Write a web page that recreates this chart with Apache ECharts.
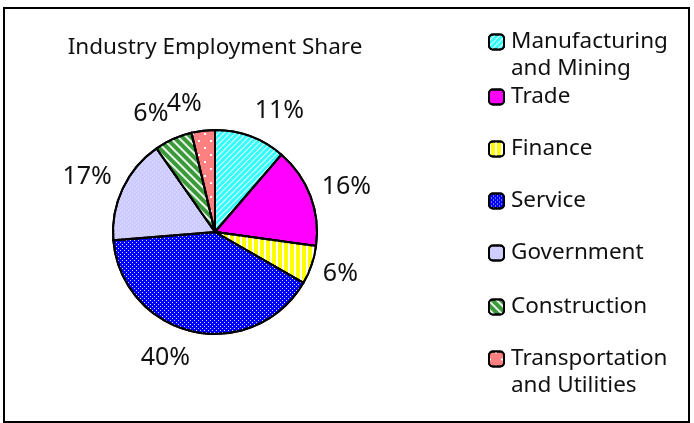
<!DOCTYPE html>
<html>
<head>
<meta charset="utf-8">
<title>Industry Employment Share</title>
<script src="https://cdn.jsdelivr.net/npm/echarts@6/dist/echarts.min.js"></script>
<style>
  html, body { margin: 0; padding: 0; background: #fff; }
  #chart { width: 694px; height: 423px; }
</style>
</head>
<body>
<div id="chart"></div>
<script>
// industry share of employment (labels round to 11/16/6/40/17/6/4)
const industries = [
  'Manufacturing\nand Mining',
  'Trade',
  'Finance',
  'Service',
  'Government',
  'Construction',
  'Transportation\nand Utilities'
];
const shares = [11.3, 15.9, 6.1, 40.4, 16.6, 6.0, 3.7];

const titleText = 'Industry Employment Share';

// colours + Excel-ish fill patterns
const fills = ['#33FFFF', '#FF00FF', '#FFFF00', '#0000FF', '#CCCCFF', '#3A9A3A', '#FF8080'];
const patterns = [
  { symbol: 'rect', symbolSize: 1, dashArrayX: [1, 0], dashArrayY: [1, 3], rotation: -Math.PI / 4, color: 'rgba(255,255,255,0.9)' },
  { symbol: 'none' },
  { symbol: 'rect', symbolSize: 1, dashArrayX: [2, 4], dashArrayY: [1, 0], rotation: 0, color: '#ffffff' },
  { symbol: 'rect', symbolSize: 1, dashArrayX: [[1, 3], [0, 2, 1, 1]], dashArrayY: [1, 1], rotation: 0, color: 'rgba(255,255,255,0.85)' },
  { symbol: 'rect', symbolSize: 1, dashArrayX: [[1, 3], [0, 2, 1, 1]], dashArrayY: [1, 1], rotation: 0, color: 'rgba(255,230,255,0.55)' },
  { symbol: 'rect', symbolSize: 1, dashArrayX: [1, 0], dashArrayY: [2, 4], rotation: Math.PI / 4, color: 'rgba(255,255,255,0.9)' },
  { symbol: 'rect', symbolSize: 1, dashArrayX: [[2, 10], [0, 6, 2, 4]], dashArrayY: [2, 5], rotation: 0, color: '#ffffff' }
];

const font = 'Noto Sans';
const cx = 215, cy = 232, pieR = 102;
const labelGap = 12;
// icon centre of each legend entry (first text line)
const legendCentres = [42, 97, 149, 201, 253, 307, 359];

const total = shares.reduce((a, b) => a + b, 0);
function midAngle(i) {
  let before = 0;
  for (let j = 0; j < i; j++) before += shares[j];
  return (before + shares[i] / 2) / total * Math.PI * 2;
}

const myChart = echarts.init(document.getElementById('chart'));

const pieData = industries.map((name, i) => ({
  name: name,
  value: shares[i],
  itemStyle: { color: fills[i], decal: patterns[i] }
}));

// one legend per entry so two-line names can hang below the icon like Excel
const legends = industries.map((name, i) => {
  const multi = name.indexOf('\n') >= 0;
  return {
    data: [name],
    orient: 'vertical',
    left: 488,
    top: legendCentres[i] - (multi ? 40.5 : 13.5),
    padding: 0,
    itemWidth: 15,
    itemHeight: 15,
    selectedMode: false,
    formatter: multi ? (n => '\n' + n) : '{name}',
    itemStyle: { borderColor: '#000', borderWidth: 2 },
    textStyle: {
      fontFamily: font,
      fontSize: 22.5,
      lineHeight: 27,
      color: '#111',
      padding: [0, 0, 0, 2]
    }
  };
});

const option = {
  backgroundColor: '#fff',
  aria: { enabled: true, decal: { show: true } },
  animation: false,
  legend: legends,
  graphic: [
    {
      type: 'rect',
      shape: { x: 4, y: 8, width: 685, height: 414 },
      style: { fill: 'none', stroke: '#000', lineWidth: 2 },
      silent: true
    },
    {
      type: 'text',
      x: cx,
      y: 48,
      style: {
        text: titleText,
        font: '22.5px "' + font + '"',
        fill: '#111',
        align: 'center',
        verticalAlign: 'middle'
      },
      silent: true
    }
  ],
  series: [
    {
      name: 'Industry Employment Share',
      type: 'pie',
      center: [cx, cy],
      radius: pieR,
      startAngle: 90,
      clockwise: true,
      avoidLabelOverlap: false,
      silent: true,
      itemStyle: { borderColor: '#000', borderWidth: 2 },
      label: {
        show: true,
        position: 'outside',
        fontFamily: font,
        fontSize: 25,
        color: '#111',
        formatter: p => Math.round(p.percent) + '%'
      },
      labelLine: { show: false },
      // park each label just outside the rim, leaning away from the pie (like Excel)
      labelLayout: function (p) {
        const a = midAngle(p.dataIndex);
        const s = Math.sin(a), c = Math.cos(a);
        const r = pieR + labelGap;
        return {
          x: cx + r * s,
          y: cy - r * c - 15 * c,
          align: s >= 0 ? 'left' : 'right',
          verticalAlign: 'middle'
        };
      },
      data: pieData
    }
  ]
};

myChart.setOption(option);
</script>
</body>
</html>
